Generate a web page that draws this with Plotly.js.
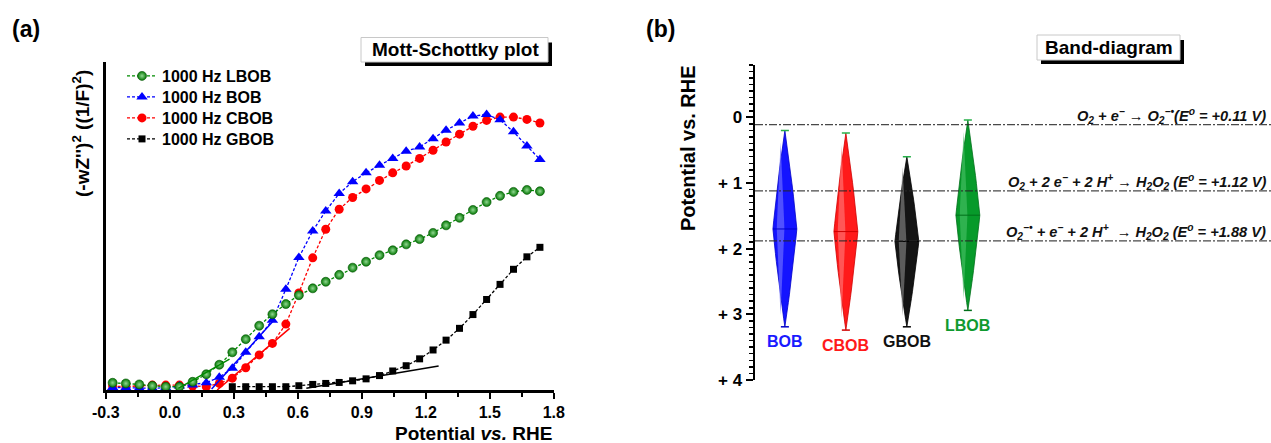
<!DOCTYPE html>
<html><head><meta charset="utf-8">
<script src="https://cdn.plot.ly/plotly-3.0.1.min.js"></script>
<style>html,body{margin:0;padding:0;background:#fff;}#chart{width:1271px;height:443px;}</style>
</head><body><div id="chart"></div>
<script>
// ---------- Panel (a): Mott-Schottky data (arbitrary y units) ----------
const potential = [-0.268,-0.206,-0.143,-0.082,-0.019,0.045,0.107,0.171,0.232,0.293,0.356,0.419,0.481,0.544,0.605,0.670,0.731,0.794,0.857,0.920,0.983,1.045,1.108,1.171,1.234,1.295,1.358,1.421,1.485,1.548,1.611,1.674,1.735];
const lbob = [2.2,2.0,1.7,1.3,1.0,1.0,2.5,4.8,7.7,11.5,15.5,19.6,23.1,26.2,28.9,31.0,33.0,35.1,37.3,39.1,41.1,42.6,44.4,46.0,47.9,50.2,52.5,54.9,57.3,59.2,60.4,61.0,60.6];
const bob  = [0.8,0.7,0.5,0.5,0.7,1.2,1.5,2.2,3.9,6.6,11.5,16.2,21.3,30.7,40.4,48.5,54.6,59.9,63.5,66.2,68.5,70.6,72.8,74.1,76.6,79.2,81.4,83.5,84.0,82.4,78.7,74.4,70.3];
const cbob = [1.2,1.0,1.3,1.5,1.5,1.5,1.2,1.0,2.0,3.6,6.8,10.7,14.2,20.1,29.6,40.3,49.0,55.1,58.7,61.3,63.9,66.2,68.3,70.6,73.1,75.6,78.0,80.4,82.2,83.2,83.2,82.5,81.4];
const gbob = [null,null,null,null,null,null,null,null,null,1.0,1.0,1.0,1.0,1.0,1.3,1.7,2.0,2.3,2.8,3.4,4.4,5.8,7.4,9.5,12.2,15.2,18.8,23.0,27.6,32.2,36.8,40.6,43.5];
// linear fits (x pairs, y pairs)
const fitLbobX = [0.04, 0.28],  fitLbobY = [0.5, 9.4];
const fitBobX  = [0.196, 0.49], fitBobY  = [0.3, 21.4];
const fitCbobX = [0.222, 0.562],fitCbobY = [0.0, 18.8];
const fitGbobX = [0.64, 1.26],  fitGbobY = [0.5, 7.3];
const xTickVals = [-0.3,0.0,0.3,0.6,0.9,1.2,1.5,1.8];
const xTickText = ['-0.3','0.0','0.3','0.6','0.9','1.2','1.5','1.8'];
const legendNames = ['1000 Hz LBOB','1000 Hz BOB','1000 Hz CBOB','1000 Hz GBOB'];

// ---------- Panel (b): band diagram ----------
const materials = ['BOB','CBOB','GBOB','LBOB'];
const cbEdge  = [0.20, 0.24, 0.60, 0.04];
const midLev  = [1.70, 1.74, 1.89, 1.49];
const vbEdge  = [3.19, 3.24, 3.19, 2.94];
const reactionE = [0.11, 1.12, 1.88];
const reactionText = [
 'O<sub>2</sub> + e<sup>\u2212</sup> \u2192 O<sub>2</sub><sup>\u2212\u2022</sup>(E<sup>o</sup> = +0.11 V)',
 'O<sub>2</sub> + 2 e<sup>\u2212</sup> + 2 H<sup>+</sup> \u2192 H<sub>2</sub>O<sub>2</sub> (E<sup>o</sup> = +1.12 V)',
 'O<sub>2</sub><sup>\u2212\u2022</sup> + e<sup>\u2212</sup> + 2 H<sup>+</sup>  \u2192 H<sub>2</sub>O<sub>2</sub> (E<sup>o</sup> = +1.88 V)'
];
const yTickVals = [0,1,2,3,4];
const yTickText = ['0','+ 1','+ 2','+ 3','+ 4'];

// ---------- styling ----------
const W = 1271, H = 443;
const PX = x => x / W, PY = y => 1 - y / H;
const FONT = 'Liberation Sans, Arial, Helvetica, sans-serif';
const baseCol  = {BOB:'#1414ff', CBOB:'#ff1a1a', GBOB:'#141414', LBOB:'#079a2a'};
const lightCol = {BOB:'#6a6aff', CBOB:'#ff7070', GBOB:'#7a7a7a', LBOB:'#40bc60'};
const edgeCol  = {BOB:'#0000c8', CBOB:'#d00000', GBOB:'#000000', LBOB:'#00701a'};
const labelCol = {BOB:'#1a1aff', CBOB:'#ff1a1a', GBOB:'#111111', LBOB:'#109a30'};

const dotted = '3px,2px';
const traces = [];
traces.push({x:potential, y:gbob, name:legendNames[3], legend:'legend4', mode:'lines+markers', cliponaxis:false,
  line:{color:'#000', width:1.3, dash:dotted}, marker:{symbol:'square', size:7, color:'#000'}});
traces.push({x:potential, y:cbob, name:legendNames[2], legend:'legend3', mode:'lines+markers', cliponaxis:false,
  line:{color:'#ff0000', width:1.3, dash:dotted}, marker:{symbol:'circle', size:9, color:'#ff0000'}});
traces.push({x:potential, y:bob, name:legendNames[1], legend:'legend2', mode:'lines+markers', cliponaxis:false,
  line:{color:'#0000ff', width:1.3, dash:dotted}, marker:{symbol:'triangle-up', size:10, color:'#0000ff'}});
traces.push({x:potential, y:lbob, name:legendNames[0], legend:'legend', mode:'lines+markers', cliponaxis:false,
  line:{color:'#008a00', width:1.3, dash:dotted},
  marker:{symbol:'circle', size:9, color:'#057805', line:{color:'#045504', width:0.6}, gradient:{type:'radial', color:'#90d890'}}});
[[fitLbobX,fitLbobY,'#008a00'],[fitBobX,fitBobY,'#0000ff'],[fitCbobX,fitCbobY,'#ff0000'],[fitGbobX,fitGbobY,'#000']].forEach(f=>{
  traces.push({x:f[0], y:f[1], mode:'lines', showlegend:false, hoverinfo:'skip', cliponaxis:false,
    line:{color:f[2], width:1.5}});
});

// band diamonds
const hw = 0.196, capHw = 0.066;
function prof(s){ return s + 0.22*s*(1-s); }
function diamond(c, top, mid, bot, half){
  const n = 12, xs = [], ys = [];
  for(let k=0;k<=n;k++){const s=k/n; xs.push(c+half*prof(s)); ys.push(top+(mid-top)*s);}
  for(let k=1;k<=n;k++){const s=k/n; xs.push(c+half*prof(1-s)); ys.push(mid+(bot-mid)*s);}
  for(let k=n-1;k>=0;k--){const s=k/n; xs.push(c-half*prof(1-s)); ys.push(mid+(bot-mid)*s);}
  for(let k=n-1;k>=0;k--){const s=k/n; xs.push(c-half*prof(s)); ys.push(top+(mid-top)*s);}
  return {xs, ys};
}
materials.forEach((m,i)=>{
  const c = i + 1;
  const d = diamond(c, cbEdge[i], midLev[i], vbEdge[i], hw);
  traces.push({x:d.xs, y:d.ys, xaxis:'x2', yaxis:'y2', mode:'lines', fill:'toself', fillcolor:baseCol[m],
    line:{color:edgeCol[m], width:0.8}, showlegend:false, hoverinfo:'skip'});
  const h = diamond(c - 0.36*hw, cbEdge[i] + 0.12*(midLev[i]-cbEdge[i]), midLev[i], vbEdge[i] - 0.12*(vbEdge[i]-midLev[i]), 0.32*hw);
  traces.push({x:h.xs, y:h.ys, xaxis:'x2', yaxis:'y2', mode:'lines', fill:'toself', fillcolor:lightCol[m],
    line:{width:0, color:'rgba(0,0,0,0)'}, opacity:0.7, showlegend:false, hoverinfo:'skip'});
  traces.push({x:[c-hw, c+hw], y:[midLev[i], midLev[i]], xaxis:'x2', yaxis:'y2', mode:'lines',
    line:{color:edgeCol[m], width:1}, showlegend:false, hoverinfo:'skip'});
  traces.push({x:[c-capHw, c+capHw], y:[cbEdge[i], cbEdge[i]], xaxis:'x2', yaxis:'y2', mode:'lines',
    line:{color:'#27b04a', width:1.5}, showlegend:false, hoverinfo:'skip'});
  traces.push({x:[c-capHw, c+capHw], y:[vbEdge[i], vbEdge[i]], xaxis:'x2', yaxis:'y2', mode:'lines',
    line:{color:edgeCol[m], width:1.5}, showlegend:false, hoverinfo:'skip'});
});

const shapes = [];
reactionE.forEach(e=>{
  shapes.push({type:'line', xref:'paper', yref:'y2', x0:PX(755), x1:1, y0:e, y1:e, layer:'above',
    line:{color:'rgba(40,40,40,0.85)', width:1.2, dash:'8px,2px,2px,2px'}});
});
function boxWithShadow(x0,y0,x1,y1){
  shapes.push({type:'rect', xref:'paper', yref:'paper', x0:PX(x0+4), x1:PX(x1+4), y0:PY(y1+4), y1:PY(y0+5),
    fillcolor:'#000', line:{width:0}, layer:'above'});
  shapes.push({type:'rect', xref:'paper', yref:'paper', x0:PX(x0), x1:PX(x1), y0:PY(y1), y1:PY(y0),
    fillcolor:'#fff', line:{color:'#c8c8c8', width:1}, layer:'above'});
}
boxWithShadow(361, 37.5, 548, 62);
boxWithShadow(1037, 35, 1180, 60);

const bold = (size, color) => ({family:FONT, size:size, color:color||'#000', weight:'bold'});
const ann = (text, x, y, font, extra) => Object.assign({text, xref:'paper', yref:'paper', x:PX(x), y:PY(y),
  xanchor:'center', yanchor:'middle', showarrow:false, font}, extra||{});
const annotations = [
  ann('(a)', 26, 29, bold(23)),
  ann('(b)', 660, 29, bold(23)),
  ann('Mott-Schottky plot', 455, 50, bold(19)),
  ann('Band-diagram', 1109, 47.5, bold(19)),
  ann("(-wZ'')<sup>2</sup> ((1/F)<sup>2</sup>)", 81, 134, bold(19), {textangle:-90}),
  ann('Potential <i>vs.</i> RHE', 554, 433, bold(19), {xanchor:'right'}),
  ann('Potential vs. RHE', 688, 148, bold(20), {textangle:-90})
];
reactionE.forEach((e,i)=>{
  annotations.push({text:reactionText[i], xref:'paper', yref:'y2', x:1, xanchor:'right', xshift:-3, y:e, yanchor:'middle', yshift:9,
    showarrow:false, font:{family:FONT, size:14.6, color:'#111', weight:'bold', style:'italic'}});
});
materials.forEach((m,i)=>{
  annotations.push({text:m, xref:'x2', yref:'y2', x:i+1, xanchor:'center', y:vbEdge[i], yanchor:'middle', yshift:-15, showarrow:false,
    font:bold(16, labelCol[m])});
});

const legendRows = [76, 97, 118, 139];
const legendStyle = row => ({x:PX(122), y:PY(row), xanchor:'left', yanchor:'middle', bgcolor:'rgba(0,0,0,0)',
  font:bold(16), itemwidth:30, tracegroupgap:0});

const layout = {
  width:W, height:H, margin:{l:0,r:0,t:0,b:0}, paper_bgcolor:'#fff', plot_bgcolor:'rgba(0,0,0,0)',
  showlegend:true,
  legend:legendStyle(legendRows[0]), legend2:legendStyle(legendRows[1]),
  legend3:legendStyle(legendRows[2]), legend4:legendStyle(legendRows[3]),
  xaxis:{domain:[PX(105.8), PX(553.8)], range:[-0.3, 1.8], anchor:'y', showline:true, linewidth:2.5, linecolor:'#000',
    ticks:'outside', ticklen:6, tickwidth:2, tickcolor:'#000', tickmode:'array', tickvals:xTickVals, ticktext:xTickText,
    tickfont:bold(16), showgrid:false, zeroline:false,
    minor:{ticks:'outside', ticklen:4, tickwidth:1.5, tickcolor:'#000', tickmode:'linear', tick0:-0.3, dtick:0.15, showgrid:false}},
  yaxis:{domain:[PY(390), PY(62)], range:[0, 100], anchor:'x', showline:true, linewidth:2.5, linecolor:'#000',
    ticks:'', showticklabels:false, showgrid:false, zeroline:false},
  xaxis2:{domain:[PX(755), 1], range:[0.51, 8.97], anchor:'y2', visible:false},
  yaxis2:{domain:[PY(380), PY(64.8)], range:[4, -0.8], anchor:'x2', showline:true, linewidth:2.5, linecolor:'#000',
    ticks:'outside', ticklen:7, tickwidth:2, tickcolor:'#000', tickmode:'array', tickvals:yTickVals, ticktext:yTickText,
    tickfont:bold(17), showgrid:false, zeroline:false,
    minor:{ticks:'outside', ticklen:4, tickwidth:1.5, tickcolor:'#000', tickmode:'linear', tick0:0, dtick:0.1, showgrid:false}},
  shapes:shapes, annotations:annotations
};
Plotly.newPlot('chart', traces, layout, {displayModeBar:false, staticPlot:true});
</script></body></html>
